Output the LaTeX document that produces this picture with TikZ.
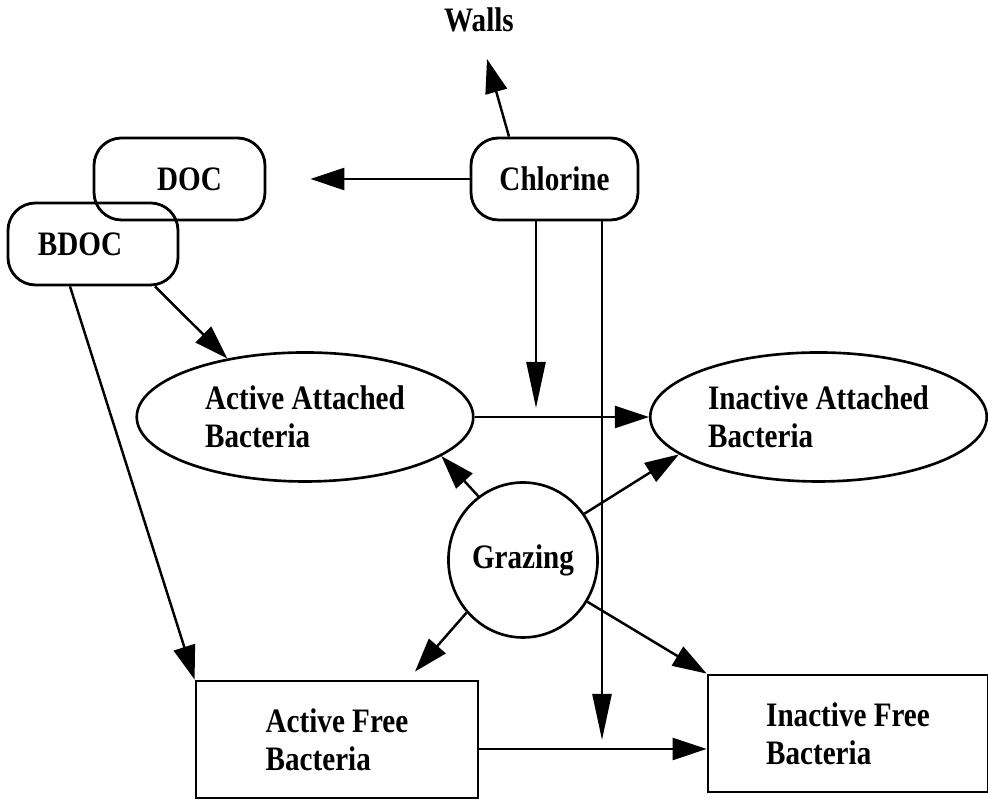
\documentclass[tikz,border=0pt]{standalone}
\usepackage{fontspec}
\setmainfont{Liberation Serif}[FakeStretch=0.85]
\usetikzlibrary{
    shapes.geometric,
    arrows.meta
}

\begin{document}
\begin{tikzpicture}[
    % Plain label
    plain/.style={
        inner sep=0pt,
        font=\fontsize{19.5pt}{21.6pt}\selectfont\bfseries
    },
    % Rounded boxes (DOC, BDOC, Chlorine)
    roundbox/.style={
        rectangle,
        draw,
        rounded corners=0.55cm,
        minimum width=#1,
        minimum height=1.64cm,
        font=\fontsize{19.5pt}{21.6pt}\selectfont\bfseries,
        line width=1.6pt
    },
    % Attached bacteria pools
    pool/.style={
        ellipse,
        draw,
        minimum width=6.73cm,
        minimum height=2.58cm,
        inner sep=1pt,
        align=left,
        font=\fontsize{19.5pt}{21.6pt}\selectfont\bfseries,
        line width=1.5pt
    },
    % Grazing
    grazer/.style={
        ellipse,
        draw,
        minimum width=2.86cm,
        minimum height=3.1cm,
        inner sep=1pt,
        font=\fontsize{19.5pt}{21.6pt}\selectfont\bfseries,
        line width=1.5pt
    },
    % Free bacteria boxes
    freebox/.style={
        rectangle,
        draw,
        minimum width=#1,
        minimum height=2.34cm,
        align=left,
        font=\fontsize{19.5pt}{21.6pt}\selectfont\bfseries,
        line width=1.6pt
    },
    % Arrow style
    flow/.style={
        -{Triangle[length=0.68cm, width=0.44cm]},
        line width=1.4pt
    },
    % Long narrow arrow (chlorine kill)
    kill/.style={
        -{Triangle[length=0.92cm, width=0.38cm]},
        line width=1.4pt,
        shorten >=0.18cm
    }
]

\useasboundingbox (0, 0) rectangle (19.76, 16);

% ============================================
% CHLORINE AND CARBON
% ============================================

\node[plain] (walls) at (9.58, 15.6) {Walls};

\node[roundbox=3.34cm] (chlorine) at (11.09, 12.42) {Chlorine};
\node[roundbox=3.42cm] (doc) at (3.59, 12.42) {\hspace*{0.4cm}DOC};
\node[roundbox=3.40cm] (bdoc) at (1.86, 11.12) {\raisebox{-0.16cm}{BDOC}\hspace*{0.52cm}};

% ============================================
% BACTERIA
% ============================================

\node[pool] (aab) at (6.1, 7.66) {Active Attached\\Bacteria};
\node[pool] (iab) at (16.37, 7.66) {Inactive Attached\\Bacteria};

\node[grazer] (grazing) at (10.46, 4.8) {Grazing};

\node[freebox=5.64cm] (afb) at (6.74, 1.21) {Active Free\\Bacteria};
\node[freebox=5.6cm] (ifb) at (16.96, 1.33) {Inactive Free\\Bacteria};

% ============================================
% ARROWS
% ============================================

\coordinate (clA) at ([xshift=-0.37cm]chlorine.south);
\coordinate (clB) at ([xshift=0.95cm]chlorine.south);
\coordinate (freeline) at ([yshift=-0.19cm]afb.east);

% Chlorine losses
\draw[flow] ([xshift=-0.91cm]chlorine.north) -- ([xshift=0.16cm, yshift=-0.53cm]walls.south);
\draw[flow] (chlorine.west) -- ([xshift=0.88cm]doc.east);

% Substrate to growth
\draw[flow] ([xshift=1.24cm]bdoc.south) -- (aab.143);
\draw[flow] ([xshift=-0.46cm]bdoc.south) -- (afb.north west);

% Inactivation
\draw[flow] (aab.east) -- (iab.west);
\draw[flow] (freeline) -- (freeline -| ifb.west);
\draw[kill] (clA) -- (clA |- aab.east);
\draw[kill] (clB) -- (clB |- freeline);

% Grazing
\foreach \a/\target in {125/{aab.-16}, 37/{iab.195}, -33/{ifb.north west}} {
    \draw[flow] (grazing.\a) -- (\target);
}
\draw[flow] (grazing.223) -- ([xshift=1.56cm, yshift=0.16cm]afb.north);

\end{tikzpicture}
\end{document}
